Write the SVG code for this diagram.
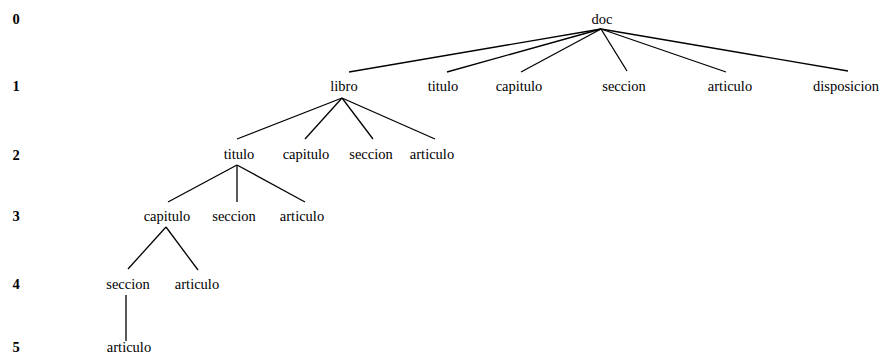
<svg xmlns="http://www.w3.org/2000/svg" width="880" height="356" viewBox="0 0 880 356">
<style>
.t{font-family:"Liberation Serif","Times New Roman",serif;font-size:14.5px;fill:#000;text-anchor:middle}
.n{font-family:"Liberation Serif","Times New Roman",serif;font-size:14.5px;font-weight:bold;fill:#000;text-anchor:middle}
.e line{stroke:#000;stroke-width:1.3;fill:none}
</style>
<rect width="880" height="356" fill="#fff"/>
<g id="levels">
<text class="n" x="16" y="24">0</text>
<text class="n" x="16" y="91">1</text>
<text class="n" x="16" y="160">2</text>
<text class="n" x="16" y="221">3</text>
<text class="n" x="16" y="289">4</text>
<text class="n" x="16" y="352">5</text>
</g>
<g id="connectors" class="e">
<line x1="601" y1="29" x2="349" y2="72"/>
<line x1="601" y1="29" x2="447" y2="72"/>
<line x1="601" y1="29" x2="521" y2="72"/>
<line x1="601" y1="29" x2="627" y2="71"/>
<line x1="601" y1="29" x2="726" y2="72"/>
<line x1="601" y1="29" x2="848" y2="71"/>
<line x1="342" y1="98" x2="237" y2="139"/>
<line x1="342" y1="98" x2="305" y2="139"/>
<line x1="342" y1="98" x2="373" y2="139"/>
<line x1="342" y1="98" x2="435" y2="139"/>
<line x1="237" y1="165" x2="168" y2="202"/>
<line x1="237" y1="165" x2="237" y2="202"/>
<line x1="237" y1="165" x2="305" y2="202"/>
<line x1="166" y1="227" x2="128" y2="269"/>
<line x1="166" y1="227" x2="198" y2="270"/>
<line x1="126" y1="295" x2="126" y2="341"/>
</g>
<g id="n-doc"><text class="t" x="602" y="24">doc</text></g>
<g id="n-libro"><text class="t" x="344" y="91">libro</text></g>
<g id="n-titulo1"><text class="t" x="443" y="91">titulo</text></g>
<g id="n-capitulo1"><text class="t" x="519" y="91">capitulo</text></g>
<g id="n-seccion1"><text class="t" x="624" y="91">seccion</text></g>
<g id="n-articulo1"><text class="t" x="730" y="91">articulo</text></g>
<g id="n-disposicion1"><text class="t" x="846" y="91">disposicion</text></g>
<g id="n-titulo2"><text class="t" x="239" y="159">titulo</text></g>
<g id="n-capitulo2"><text class="t" x="306" y="159">capitulo</text></g>
<g id="n-seccion2"><text class="t" x="371" y="159">seccion</text></g>
<g id="n-articulo2"><text class="t" x="432" y="159">articulo</text></g>
<g id="n-capitulo3"><text class="t" x="167" y="221">capitulo</text></g>
<g id="n-seccion3"><text class="t" x="234" y="221">seccion</text></g>
<g id="n-articulo3"><text class="t" x="302" y="221">articulo</text></g>
<g id="n-seccion4"><text class="t" x="128" y="289">seccion</text></g>
<g id="n-articulo4"><text class="t" x="197" y="289">articulo</text></g>
<g id="n-articulo5"><text class="t" x="129" y="352">articulo</text></g>
</svg>
